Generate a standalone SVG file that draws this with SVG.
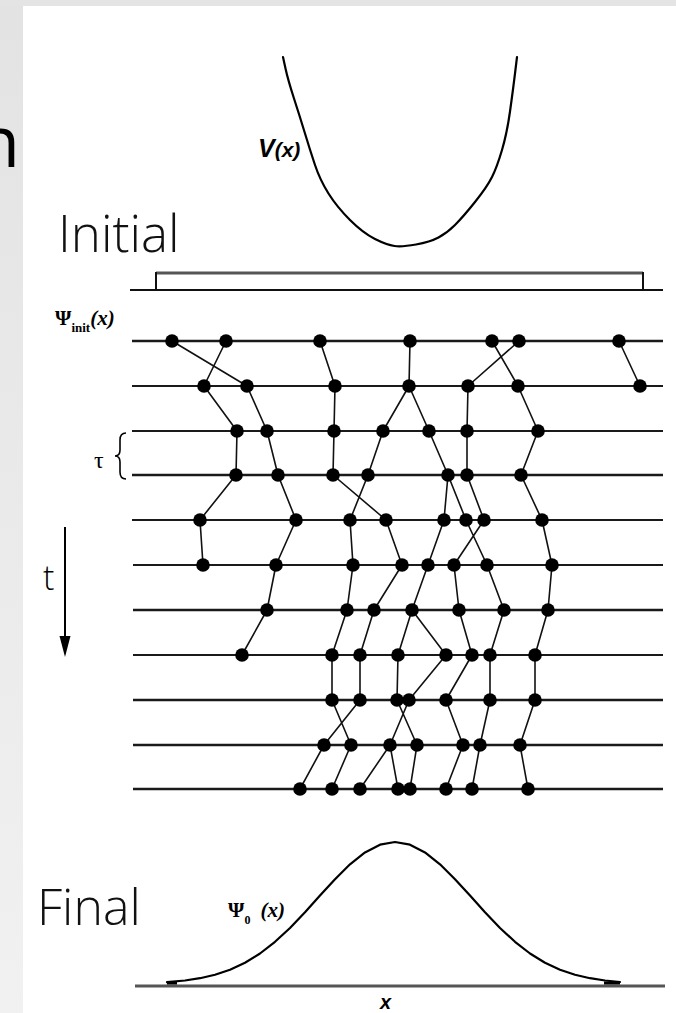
<svg xmlns="http://www.w3.org/2000/svg" width="676" height="1013" viewBox="0 0 676 1013">
<style>
.bigtxt{font-family:"Open Sans","Liberation Sans",sans-serif;font-weight:300;fill:#111}
.lbl{font-family:"Liberation Serif","DejaVu Serif",serif;font-weight:bold;fill:#000}
.sans{font-family:"Liberation Sans",Arial,sans-serif;font-style:italic;fill:#000}
.row{stroke:#1a1a1a;stroke-width:1.8}
.thk{stroke-width:2.6}
.edge{stroke:#111;stroke-width:1.6;fill:none}
.dot{fill:#000}
.curve{stroke:#000;stroke-width:2.2;fill:none;stroke-linejoin:round;stroke-linecap:round}
</style>
<defs>
<linearGradient id="side" x1="0" y1="0" x2="0" y2="1">
<stop offset="0" stop-color="#e3e3e3"/>
<stop offset="1" stop-color="#f1f1f1"/>
</linearGradient>
</defs>
<rect width="676" height="1013" fill="url(#side)"/>
<rect x="0" y="0" width="676" height="6" fill="#e4e4e4"/>
<rect x="23" y="6" width="653" height="1007" fill="#fff"/>

<g id="title-fragment"><text class="bigtxt" x="20" y="167" font-size="71" text-anchor="end" style="font-weight:400;fill:#000">n</text></g>
<g id="label-initial"><text class="bigtxt" x="58" y="252" font-size="51">Initial</text></g>
<g id="label-final"><text class="bigtxt" x="37" y="925" font-size="50">Final</text></g>

<g id="potential">
<path class="curve" d="M283 57L285.5 68.5Q288 80 294 98.5Q300 117 305 133.5Q310 150 315 165Q320 180 328.5 193.5Q337 207 350 220Q363 233 375 239Q387 245 394.5 246Q402 247 416 244.5Q430 242 438.5 237.5Q447 233 455 225Q463 217 475 202Q487 187 492 177Q497 167 502 150Q507 133 510 111.5Q513 90 515 73.5L517 57"/>
<text class="sans" x="258" y="157" font-size="25" font-weight="bold">V<tspan font-size="21">(x)</tspan></text>
</g>

<g id="initial-box">
<line x1="156" y1="273" x2="643" y2="273" stroke="#555" stroke-width="3"/>
<line x1="156" y1="272" x2="156" y2="290" stroke="#111" stroke-width="2"/>
<line x1="643" y1="272" x2="643" y2="290" stroke="#111" stroke-width="2"/>
<line x1="130" y1="290" x2="663" y2="290" stroke="#111" stroke-width="2"/>
</g>

<g id="psi-init"><text class="lbl" x="55" y="325" font-size="21">Ψ<tspan font-size="13" dy="7">init</tspan><tspan dy="-7" font-style="italic">(x)</tspan></text></g>

<g id="tau"><text x="94" y="468" font-size="24" style="font-family:'Liberation Serif','DejaVu Serif',serif;font-weight:normal;fill:#000">τ</text>
<path d="M126 433Q120 433 120 440L120 450Q120 456 115 456Q120 456 120 462L120 472Q120 479 126 479" fill="none" stroke="#000" stroke-width="1.6"/></g>

<g id="time-arrow">
<text class="bigtxt" x="43" y="590" font-size="34" style="fill:#000">t</text>
<line x1="65" y1="527" x2="65" y2="640" stroke="#000" stroke-width="2"/>
<path d="M59.5 636L70.5 636L65 657Z" fill="#000"/>
</g>

<g id="time-slices">
<line class="row thk" x1="132" y1="341" x2="663" y2="341"/>
<line class="row" x1="132" y1="386" x2="663" y2="386"/>
<line class="row" x1="132" y1="431" x2="663" y2="431"/>
<line class="row thk" x1="132" y1="475" x2="663" y2="475"/>
<line class="row" x1="132" y1="520" x2="663" y2="520"/>
<line class="row" x1="133" y1="565" x2="663" y2="565"/>
<line class="row thk" x1="133" y1="610" x2="663" y2="610"/>
<line class="row" x1="133" y1="655" x2="663" y2="655"/>
<line class="row thk" x1="133" y1="700" x2="663" y2="700"/>
<line class="row thk" x1="133" y1="745" x2="663" y2="745"/>
<line class="row thk" x1="133" y1="789" x2="663" y2="789"/>
</g>

<g id="connectors" class="edge">
<path d="M172 341L247 386M226 341L204 386M320 341L335 386M410 341L409 386M492 341L518 386M519 341L468 386M619 341L640 386"/>
<path d="M204 386L237 431M247 386L267 431M335 386L334 431M409 386L383 431M409 386L429 431M468 386L467 431M518 386L538 431"/>
<path d="M237 431L236 475M267 431L278 475M334 431L333 475M383 431L368 475M429 431L448 475M467 431L467 475M538 431L521 475"/>
<path d="M236 475L200 520M278 475L296 520M333 475L386 520M368 475L350 520M448 475L444 520M448 475L466 520M467 475L484 520M521 475L542 520"/>
<path d="M200 520L203 565M296 520L276 565M350 520L353 565M386 520L402 565M444 520L428 565M466 520L487 565M484 520L454 565M542 520L552 565"/>
<path d="M276 565L267 610M353 565L347 610M402 565L374 610M428 565L412 610M454 565L459 610M487 565L504 610M552 565L548 610"/>
<path d="M267 610L242 655M347 610L332 655M374 610L360 655M412 610L398 655M412 610L446 655M459 610L472 655M504 610L490 655M548 610L535 655"/>
<path d="M332 655L332 700M360 655L360 700M398 655L397 700M446 655L409 700M472 655L446 700M490 655L490 700M535 655L535 700"/>
<path d="M332 700L351 745M360 700L324 745M397 700L417 745M409 700L390 745M446 700L463 745M490 700L480 745M535 700L520 745"/>
<path d="M324 745L300 789M351 745L332 789M390 745L360 789M390 745L398 789M417 745L410 789M463 745L446 789M480 745L472 789M520 745L528 789"/>
</g>

<g id="walkers" class="dot">
<g id="w0-1"><circle cx="172" cy="341" r="6.8"/></g>
<g id="w0-2"><circle cx="226" cy="341" r="6.8"/></g>
<g id="w0-3"><circle cx="320" cy="341" r="6.8"/></g>
<g id="w0-4"><circle cx="410" cy="341" r="6.8"/></g>
<g id="w0-5"><circle cx="492" cy="341" r="6.8"/></g>
<g id="w0-6"><circle cx="519" cy="341" r="6.8"/></g>
<g id="w0-7"><circle cx="619" cy="341" r="6.8"/></g>
<g id="w1-1"><circle cx="204" cy="386" r="6.8"/></g>
<g id="w1-2"><circle cx="247" cy="386" r="6.8"/></g>
<g id="w1-3"><circle cx="335" cy="386" r="6.8"/></g>
<g id="w1-4"><circle cx="409" cy="386" r="6.8"/></g>
<g id="w1-5"><circle cx="468" cy="386" r="6.8"/></g>
<g id="w1-6"><circle cx="518" cy="386" r="6.8"/></g>
<g id="w1-7"><circle cx="640" cy="386" r="6.8"/></g>
<g id="w2-1"><circle cx="237" cy="431" r="6.8"/></g>
<g id="w2-2"><circle cx="267" cy="431" r="6.8"/></g>
<g id="w2-3"><circle cx="334" cy="431" r="6.8"/></g>
<g id="w2-4"><circle cx="383" cy="431" r="6.8"/></g>
<g id="w2-5"><circle cx="429" cy="431" r="6.8"/></g>
<g id="w2-6"><circle cx="467" cy="431" r="6.8"/></g>
<g id="w2-7"><circle cx="538" cy="431" r="6.8"/></g>
<g id="w3-1"><circle cx="236" cy="475" r="6.8"/></g>
<g id="w3-2"><circle cx="278" cy="475" r="6.8"/></g>
<g id="w3-3"><circle cx="333" cy="475" r="6.8"/></g>
<g id="w3-4"><circle cx="368" cy="475" r="6.8"/></g>
<g id="w3-5"><circle cx="448" cy="475" r="6.8"/></g>
<g id="w3-6"><circle cx="467" cy="475" r="6.8"/></g>
<g id="w3-7"><circle cx="521" cy="475" r="6.8"/></g>
<g id="w4-1"><circle cx="200" cy="520" r="6.8"/></g>
<g id="w4-2"><circle cx="296" cy="520" r="6.8"/></g>
<g id="w4-3"><circle cx="350" cy="520" r="6.8"/></g>
<g id="w4-4"><circle cx="386" cy="520" r="6.8"/></g>
<g id="w4-5"><circle cx="444" cy="520" r="6.8"/></g>
<g id="w4-6"><circle cx="466" cy="520" r="6.8"/></g>
<g id="w4-7"><circle cx="484" cy="520" r="6.8"/></g>
<g id="w4-8"><circle cx="542" cy="520" r="6.8"/></g>
<g id="w5-1"><circle cx="203" cy="565" r="6.8"/></g>
<g id="w5-2"><circle cx="276" cy="565" r="6.8"/></g>
<g id="w5-3"><circle cx="353" cy="565" r="6.8"/></g>
<g id="w5-4"><circle cx="402" cy="565" r="6.8"/></g>
<g id="w5-5"><circle cx="428" cy="565" r="6.8"/></g>
<g id="w5-6"><circle cx="454" cy="565" r="6.8"/></g>
<g id="w5-7"><circle cx="487" cy="565" r="6.8"/></g>
<g id="w5-8"><circle cx="552" cy="565" r="6.8"/></g>
<g id="w6-1"><circle cx="267" cy="610" r="6.8"/></g>
<g id="w6-2"><circle cx="347" cy="610" r="6.8"/></g>
<g id="w6-3"><circle cx="374" cy="610" r="6.8"/></g>
<g id="w6-4"><circle cx="412" cy="610" r="6.8"/></g>
<g id="w6-5"><circle cx="459" cy="610" r="6.8"/></g>
<g id="w6-6"><circle cx="504" cy="610" r="6.8"/></g>
<g id="w6-7"><circle cx="548" cy="610" r="6.8"/></g>
<g id="w7-1"><circle cx="242" cy="655" r="6.8"/></g>
<g id="w7-2"><circle cx="332" cy="655" r="6.8"/></g>
<g id="w7-3"><circle cx="360" cy="655" r="6.8"/></g>
<g id="w7-4"><circle cx="398" cy="655" r="6.8"/></g>
<g id="w7-5"><circle cx="446" cy="655" r="6.8"/></g>
<g id="w7-6"><circle cx="472" cy="655" r="6.8"/></g>
<g id="w7-7"><circle cx="490" cy="655" r="6.8"/></g>
<g id="w7-8"><circle cx="535" cy="655" r="6.8"/></g>
<g id="w8-1"><circle cx="332" cy="700" r="6.8"/></g>
<g id="w8-2"><circle cx="360" cy="700" r="6.8"/></g>
<g id="w8-3"><circle cx="397" cy="700" r="6.8"/></g>
<g id="w8-4"><circle cx="409" cy="700" r="6.8"/></g>
<g id="w8-5"><circle cx="446" cy="700" r="6.8"/></g>
<g id="w8-6"><circle cx="490" cy="700" r="6.8"/></g>
<g id="w8-7"><circle cx="535" cy="700" r="6.8"/></g>
<g id="w9-1"><circle cx="324" cy="745" r="6.8"/></g>
<g id="w9-2"><circle cx="351" cy="745" r="6.8"/></g>
<g id="w9-3"><circle cx="390" cy="745" r="6.8"/></g>
<g id="w9-4"><circle cx="417" cy="745" r="6.8"/></g>
<g id="w9-5"><circle cx="463" cy="745" r="6.8"/></g>
<g id="w9-6"><circle cx="480" cy="745" r="6.8"/></g>
<g id="w9-7"><circle cx="520" cy="745" r="6.8"/></g>
<g id="w10-1"><circle cx="300" cy="789" r="6.8"/></g>
<g id="w10-2"><circle cx="332" cy="789" r="6.8"/></g>
<g id="w10-3"><circle cx="360" cy="789" r="6.8"/></g>
<g id="w10-4"><circle cx="398" cy="789" r="6.8"/></g>
<g id="w10-5"><circle cx="410" cy="789" r="6.8"/></g>
<g id="w10-6"><circle cx="446" cy="789" r="6.8"/></g>
<g id="w10-7"><circle cx="472" cy="789" r="6.8"/></g>
<g id="w10-8"><circle cx="528" cy="789" r="6.8"/></g>
</g>

<g id="ground-state">
<line x1="135" y1="986" x2="665" y2="986" stroke="#555" stroke-width="3"/>
<path class="curve" d="M167 982.2L185 980.5L200 978.2L215 974.8L230 969.7L245 962.7L260 953.5L275 941.8L290 928L305 912.3L320 895.6L335 879.2L350 864.3L365 852.4L380 844.7L395 842L410 844.7L425 852.4L440 864.3L455 879.2L470 895.6L485 912.3L500 928L515 941.8L530 953.5L545 962.7L560 969.7L575 974.8L590 978.2L605 980.5L620 982"/>
<line x1="167" y1="983" x2="177" y2="983" stroke="#000" stroke-width="3"/>
<line x1="604" y1="983" x2="620" y2="983" stroke="#000" stroke-width="3"/>
<text class="lbl" x="228" y="917" font-size="21">Ψ<tspan font-size="12" dy="7">0</tspan><tspan dy="-7" dx="10" font-style="italic">(x)</tspan></text>
<text class="sans" x="380" y="1009" font-size="20" font-weight="bold">x</text>
</g>
</svg>
